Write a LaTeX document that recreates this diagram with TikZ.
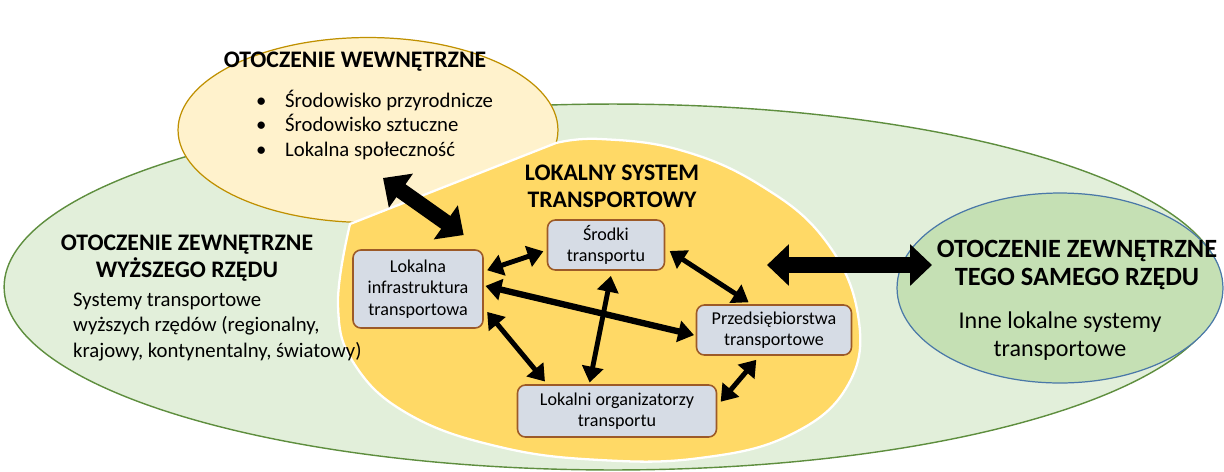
\documentclass[tikz,border=0pt]{standalone}
\usepackage{fontspec}
\setmainfont{Carlito}
\usetikzlibrary{shapes,arrows.meta}

\definecolor{zielonyjasny}{HTML}{E2EFDA}
\definecolor{zielonyramka}{HTML}{5E8E3E}
\definecolor{zielony}{HTML}{C5E0B4}
\definecolor{niebieskiramka}{HTML}{4A78A8}
\definecolor{kremowy}{HTML}{FFF2CC}
\definecolor{zlotyramka}{HTML}{BF9000}
\definecolor{zolty}{HTML}{FFD966}
\definecolor{szary}{HTML}{D6DCE5}
\definecolor{brazowy}{HTML}{9C5A28}

\tikzset{
  element/.style={draw=brazowy, fill=szary, rounded corners=4.5pt, line width=0.9pt,
    align=center, font=\fontsize{10.3}{12.3}\selectfont, inner sep=0pt},
  strzalka/.style={{Triangle[length=9pt,width=12pt]}-{Triangle[length=9pt,width=12pt]}, line width=2.8pt},
  gruba/.style={{Triangle[length=12.5pt,width=23pt]}-{Triangle[length=12.5pt,width=23pt]}, line width=9pt},
  naglowek/.style={font=\bfseries\fontsize{13.5}{15.5}\selectfont, align=center},
  opis/.style={font=\fontsize{11.8}{14.7}\selectfont}
}

\begin{document}
\begin{tikzpicture}[x=0.02cm,y=-0.02cm]
            \useasboundingbox (0,0) rectangle (1224,471);

            % Draw surroundings
            \node[ellipse, draw=zielonyramka, fill=zielonyjasny, line width=0.8pt, inner sep=0pt,
              minimum width=24.36cm, minimum height=7.32cm] (wyzszy) at (613,287) {};
            \node[ellipse, draw=niebieskiramka, fill=zielony, line width=0.7pt, inner sep=0pt,
              minimum width=6.52cm, minimum height=3.8cm] (samego) at (1060,288) {};
            \node[ellipse, draw=zlotyramka, fill=kremowy, line width=0.7pt, inner sep=0pt,
              minimum width=7.6cm, minimum height=3.7cm] (wewn) at (368,130) {};

            % Draw local system
            \filldraw[fill=zolty, draw=white, line width=1.3pt] (350,224) -- (556,143)
              -- plot[smooth, tension=0.7] coordinates {(556,143) (600,139) (680,150) (760,185)
              (825,240) (858,315) (848,385) (790,435) (700,458) (600,460) (500,447)
              (410,415) (355,365) (338,305) (350,224)} -- cycle;

            % Add labels
            \node[naglowek] at (355,62) {OTOCZENIE WEWNĘTRZNE};
            \node[opis, anchor=west, align=left, font=\fontsize{11.8}{14}\selectfont] at (250,125)
              {\makebox[16.5pt][l]{•}Środowisko przyrodnicze\\
               \makebox[16.5pt][l]{•}Środowisko sztuczne\\
               \makebox[16.5pt][l]{•}Lokalna społeczność};
            \node[naglowek] at (612,186) {LOKALNY SYSTEM\\TRANSPORTOWY};
            \node[naglowek] at (187,258) {OTOCZENIE ZEWNĘTRZNE\\WYŻSZEGO RZĘDU};
            \node[opis, anchor=west, align=left] at (67,327)
              {Systemy transportowe\\wyższych rzędów (regionalny,\\krajowy, kontynentalny, światowy)};
            \node[naglowek, font=\bfseries\fontsize{15}{15.5}\selectfont] at (1077,265)
              {OTOCZENIE ZEWNĘTRZNE\\TEGO SAMEGO RZĘDU};
            \node[font=\fontsize{13.7}{16}\selectfont, align=center] at (1060,336)
              {Inne lokalne systemy\\transportowe};

            % Draw elements
            \node[element, minimum width=2.6cm, minimum height=1.56cm] (infra) at (418,289)
              {Lokalna\\infrastruktura\\transportowa};
            \node[element, minimum width=2.34cm, minimum height=1cm] (srodki) at (606,245)
              {Środki\\transportu};
            \node[element, minimum width=3.1cm, minimum height=1cm] (przeds) at (774,330)
              {Przedsiębiorstwa\\transportowe};
            \node[element, minimum width=3.98cm, minimum height=1.04cm] (organ) at (617,411)
              {Lokalni organizatorzy\\transportu};

            % Draw connections
            \draw[strzalka, shorten <=2pt, shorten >=2pt] (infra.15) -- (srodki.185);
            \draw[strzalka, shorten <=3pt, shorten >=2pt] (srodki.-3) -- (przeds.131);
            \draw[strzalka, line width=3.6pt, shorten <=1pt, shorten >=1pt] (infra.3) -- (przeds.184);
            \draw[strzalka, shorten <=3pt, shorten >=2pt] (infra.-16) -- (organ.159);
            \draw[strzalka, shorten <=3pt, shorten >=1pt] (srodki.-77) -- (organ.136);
            \draw[strzalka, shorten <=3pt, shorten >=3pt] (przeds.241) -- (organ.3);

            \coordinate (wewn-dol) at (383,178);
            \coordinate (system-prawo) at (767,265);
            \coordinate (samego-lewo) at (932,265);
            \draw[gruba, shorten >=14pt] (wewn-dol) -- (infra.north east);
            \draw[gruba] (system-prawo) -- (samego-lewo);
        \end{tikzpicture}
\end{document}
